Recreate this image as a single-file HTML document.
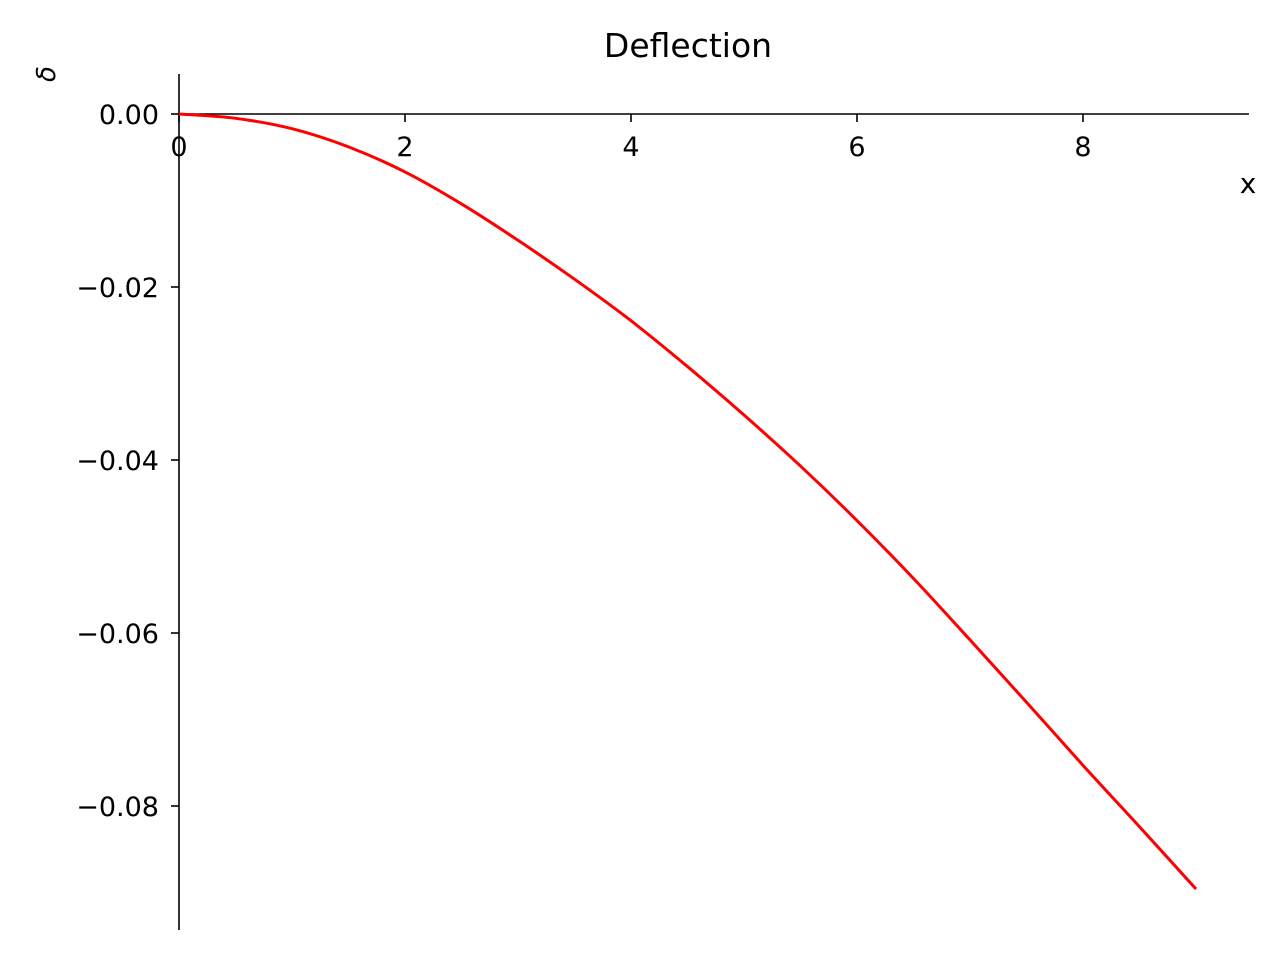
<!DOCTYPE html>
<html><head><meta charset="utf-8"><style>
html,body{margin:0;padding:0;background:#fff;}
svg text{font-family:"DejaVu Sans","Liberation Sans",sans-serif;fill:#000;}
</style></head><body>
<svg id="chart" width="1280" height="960" viewBox="0 0 1280 960" xmlns="http://www.w3.org/2000/svg">
<text x="688" y="57" font-size="33" text-anchor="middle">Deflection</text>
<g id="axes"></g>
<g id="series"></g>
<text x="1248" y="193" font-size="28" text-anchor="middle">x</text>
<text x="0" y="0" font-size="26" font-style="italic" text-anchor="middle" transform="translate(55,74) rotate(-90)">δ</text>
</svg>
<script>
const xValues = [0,0.5,1,1.5,2,2.5,3,3.5,4,4.5,5,5.5,6,6.5,7,7.5,8,8.5,9];
const deflection = [0,-0.0005,-0.0017,-0.0038,-0.0067,-0.0104,-0.0146,-0.0191,-0.0239,-0.0292,-0.0348,-0.0407,-0.0470,-0.0537,-0.0608,-0.0680,-0.0753,-0.0824,-0.0896];
const xTicks = [0,2,4,6,8];
const xTickLabels = ["0","2","4","6","8"];
const yTicks = [0,-0.02,-0.04,-0.06,-0.08];
const yTickLabels = ["0.00","\u22120.02","\u22120.04","\u22120.06","\u22120.08"];

const NS = "http://www.w3.org/2000/svg";
function sx(v){ return 179 + v * 113; }
function sy(v){ return 114 - v * 8650; }
function mk(tag, attrs, parent){ const e=document.createElementNS(NS,tag); for(const k in attrs) e.setAttribute(k,attrs[k]); parent.appendChild(e); return e; }
const axes = document.getElementById('axes');
const series = document.getElementById('series');

const xAxis = mk('line',{x1:179,y1:sy(0),x2:1249,y2:sy(0),stroke:'#000','stroke-width':1.6},axes);


const yAxis = mk('line',{x1:sx(0),y1:74,x2:sx(0),y2:930,stroke:'#000','stroke-width':1.6},axes);



xTicks.forEach((t,i)=>{
  const tk = mk('line',{x1:sx(t),y1:sy(0),x2:sx(t),y2:sy(0)+8,stroke:'#000','stroke-width':1.6},axes);
  
  
  const lb = mk('text',{x:sx(t),y:sy(0)+42,'font-size':27,'text-anchor':'middle'},axes);
  lb.textContent = xTickLabels[i];
  
  
});
yTicks.forEach((t,i)=>{
  const tk = mk('line',{x1:sx(0)-8,y1:sy(t),x2:sx(0),y2:sy(t),stroke:'#000','stroke-width':1.6},axes);
  
  
  const lb = mk('text',{x:sx(0)-20,y:sy(t)+10,'font-size':27,'text-anchor':'end'},axes);
  lb.textContent = yTickLabels[i];
  
  
});

const P = xValues.map((x,i)=>[sx(x), sy(deflection[i])]);
let d = 'M' + P[0][0] + ',' + P[0][1];
for (let i=0;i<P.length-1;i++){
  const p0 = P[Math.max(0,i-1)], p1 = P[i], p2 = P[i+1], p3 = P[Math.min(P.length-1,i+2)];
  const c1x = p1[0] + (p2[0]-p0[0])/6, c1y = p1[1] + (p2[1]-p0[1])/6;
  const c2x = p2[0] - (p3[0]-p1[0])/6, c2y = p2[1] - (p3[1]-p1[1])/6;
  d += ' C' + c1x + ',' + c1y + ' ' + c2x + ',' + c2y + ' ' + p2[0] + ',' + p2[1];
}
const line = mk('path',{d:d,fill:'none',stroke:'#ff0000','stroke-width':3,'stroke-linejoin':'round'},series);


</script>
</body></html>
